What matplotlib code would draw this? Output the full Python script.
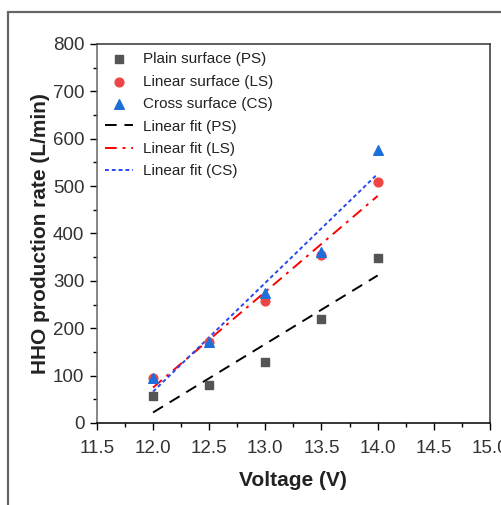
import matplotlib
matplotlib.use('Agg')

import matplotlib.pyplot as plt
from matplotlib.patches import Rectangle
from matplotlib.ticker import MultipleLocator
import numpy as np

plt.rcParams['font.family'] = ['Liberation Sans', 'DejaVu Sans']

voltage = [12.0, 12.5, 13.0, 13.5, 14.0]
ps_rate = [57, 80, 129, 219, 349]
ls_rate = [95, 170, 257, 355, 508]
cs_rate = [96, 172, 275, 361, 576]

fig = plt.figure(figsize=(5.02, 5.05), dpi=100)
ax = fig.add_axes([0.193, 0.1624, 0.783, 0.7505])

# outer frame of the figure panel
fig.patches.append(Rectangle((8 / 502, -0.2), 1.2, 1.2 - 12 / 505,
                             transform=fig.transFigure, fill=False,
                             edgecolor='#666666', linewidth=1.6))

ax.scatter(voltage, ps_rate, marker='s', s=36, color='#555555', label='Plain surface (PS)', zorder=3)
ax.scatter(voltage, ls_rate, marker='o', s=40, color='#EE4646', label='Linear surface (LS)', zorder=3)
ax.scatter(voltage, cs_rate, marker='^', s=48, color='#1F6FDB', label='Cross surface (CS)', zorder=4)

# linear fits
xs = np.array(voltage)
for data, col, ls, lab in [(ps_rate, 'black', (0, (6, 4)), 'Linear fit (PS)'),
                           (ls_rate, 'red', (0, (6, 3, 1.5, 3)), 'Linear fit (LS)'),
                           (cs_rate, '#2848F0', (0, (2, 1.5)), 'Linear fit (CS)')]:
    k, b = np.polyfit(xs, data, 1)
    ax.plot([xs[0], xs[-1]], [k * xs[0] + b, k * xs[-1] + b], color=col,
            linestyle=ls, linewidth=1.4, label=lab, zorder=2)

ax.set_xlim(11.5, 15.0)
ax.set_ylim(0, 800)
ax.xaxis.set_major_locator(MultipleLocator(0.5))
ax.xaxis.set_minor_locator(MultipleLocator(0.25))
ax.yaxis.set_major_locator(MultipleLocator(100))
ax.yaxis.set_minor_locator(MultipleLocator(50))
ax.tick_params(which='major', direction='out', length=5, width=1, labelsize=13.5,
               labelcolor='#333333', pad=4)
ax.tick_params(axis='x', which='major', pad=7)
ax.tick_params(which='minor', direction='out', length=3, width=1)
for sp in ax.spines.values():
    sp.set_linewidth(1.1)
    sp.set_color('#333333')
ax.spines['left'].set_color('#666666')
ax.spines['bottom'].set_color('black')

ax.set_xlabel('Voltage (V)', fontsize=15, fontweight='bold', color='#222222', labelpad=10)
ax.set_ylabel('HHO production rate (L/min)', fontsize=15, fontweight='bold', color='#222222', labelpad=2)

ax.legend(loc='upper left', frameon=False, fontsize=11, handlelength=1.8,
          handletextpad=0.7, labelspacing=0.55, borderaxespad=0.15,
          labelcolor='#222222')

fig.savefig('out.png', dpi=100)
